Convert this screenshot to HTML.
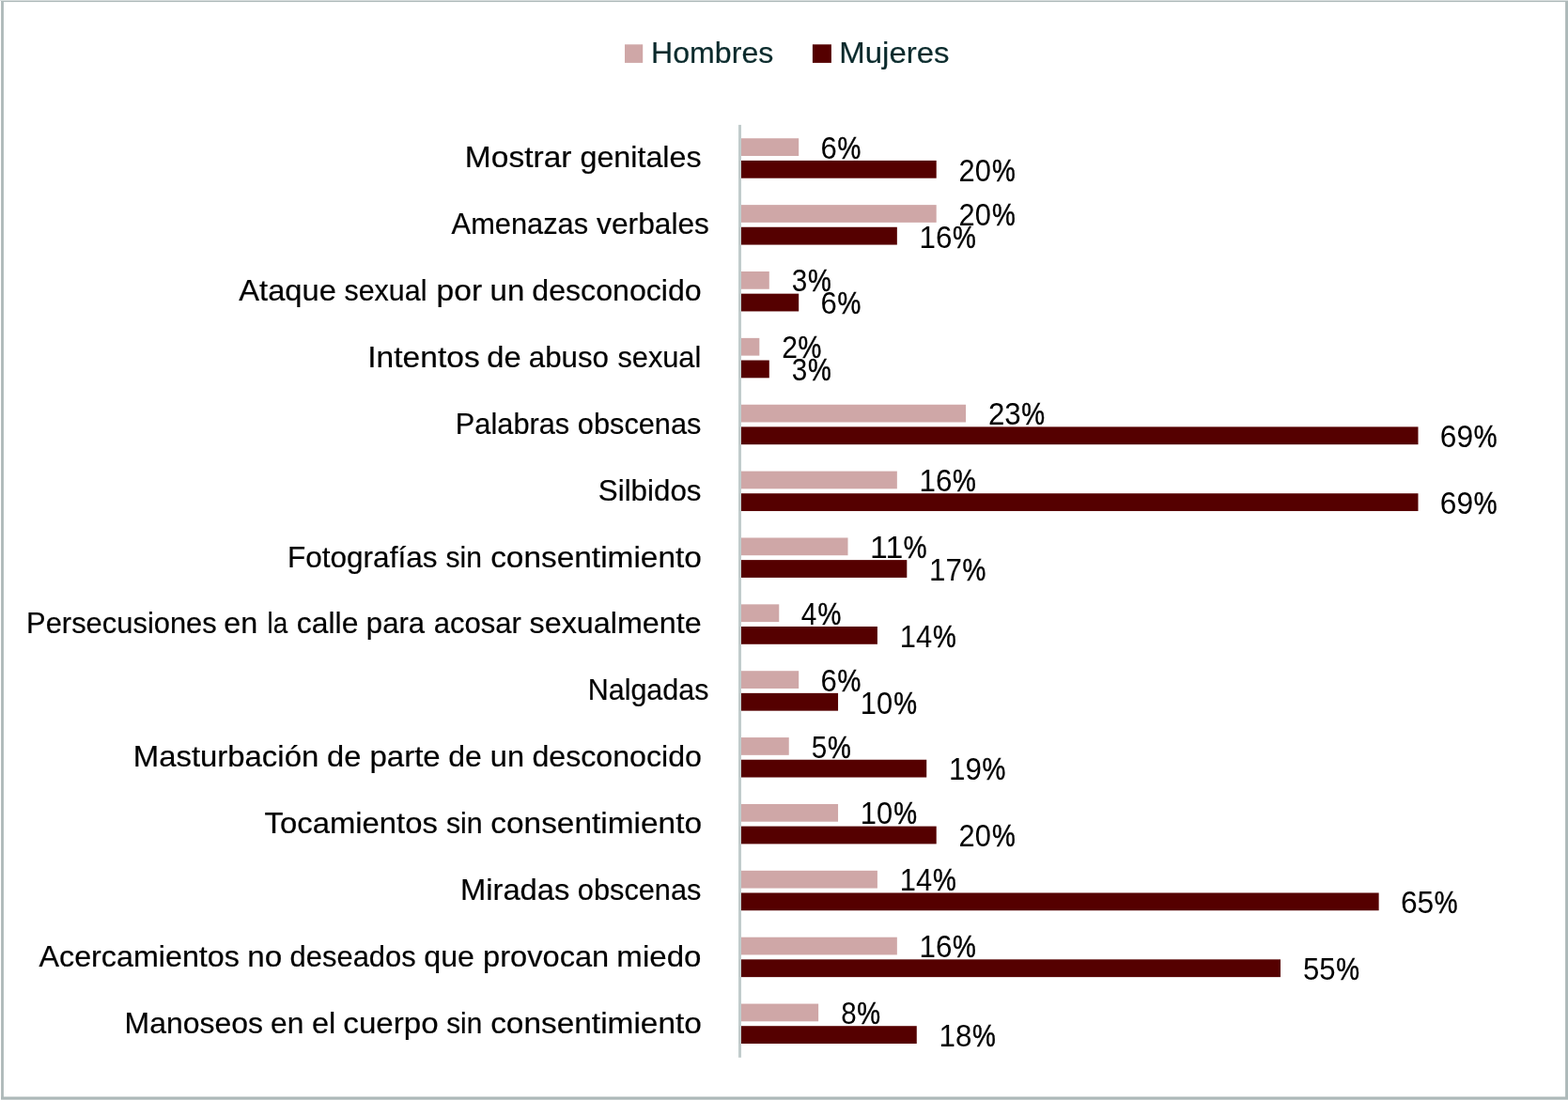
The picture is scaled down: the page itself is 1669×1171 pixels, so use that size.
<!DOCTYPE html>
<html lang="es"><head><meta charset="utf-8"><title>Gráfico</title>
<style>
html,body{margin:0;padding:0;background:#fff;}
body{width:1669px;height:1171px;overflow:hidden;}
svg{display:block;}
text{font-family:"Liberation Sans",sans-serif;}
text{stroke-width:0.2px;}
.cat{font-size:31.5px;fill:#000000;stroke:#000000;}
.val{font-size:32.5px;fill:#000000;}
.pct{stroke:#000000;stroke-width:0.45px;}
.leg{font-size:31.5px;fill:#0a2a2c;stroke:#0a2a2c;}
</style></head><body>
<svg width="1669" height="1171" viewBox="0 0 1669 1171">
<rect x="0" y="0" width="1669" height="1171" fill="#ffffff"/>
<g id="border">
<rect x="0" y="0" width="1669" height="1" fill="#d8dede"/>
<rect x="1" y="1" width="1668" height="1.1" fill="#adb9b9"/>
<rect x="1.1" y="1" width="2.8" height="1170" fill="#adb9b9"/>
<rect x="1666.1" y="1" width="2.9" height="1170" fill="#adb9b9"/>
<rect x="1" y="1167.5" width="1668" height="2.5" fill="#adb9b9"/>
<rect x="1" y="1170" width="1668" height="1" fill="#c5cdcd"/>
</g>
<g id="legend">
<rect x="665.0" y="47.3" width="19.2" height="19.6" fill="#cfa7a7"/>
<text class="leg" transform="translate(693.09,67.1) scale(1.0190,1)">Hombres</text>
<rect x="864.9" y="47.3" width="20.0" height="19.6" fill="#550000"/>
<text class="leg" transform="translate(893.33,67.1) scale(1.0470,1)">Mujeres</text>
</g>
<g id="bars">
<rect x="787.4" y="147.25" width="62.79" height="18.75" fill="#cfa7a7"/>
<rect x="787.4" y="170.90" width="209.30" height="18.8" fill="#550000"/>
<rect x="787.4" y="218.12" width="209.30" height="18.75" fill="#cfa7a7"/>
<rect x="787.4" y="241.77" width="167.44" height="18.8" fill="#550000"/>
<rect x="787.4" y="288.99" width="31.39" height="18.75" fill="#cfa7a7"/>
<rect x="787.4" y="312.64" width="62.79" height="18.8" fill="#550000"/>
<rect x="787.4" y="359.86" width="20.93" height="18.75" fill="#cfa7a7"/>
<rect x="787.4" y="383.51" width="31.39" height="18.8" fill="#550000"/>
<rect x="787.4" y="430.73" width="240.69" height="18.75" fill="#cfa7a7"/>
<rect x="787.4" y="454.38" width="722.09" height="18.8" fill="#550000"/>
<rect x="787.4" y="501.60" width="167.44" height="18.75" fill="#cfa7a7"/>
<rect x="787.4" y="525.25" width="722.09" height="18.8" fill="#550000"/>
<rect x="787.4" y="572.47" width="115.11" height="18.75" fill="#cfa7a7"/>
<rect x="787.4" y="596.12" width="177.91" height="18.8" fill="#550000"/>
<rect x="787.4" y="643.34" width="41.86" height="18.75" fill="#cfa7a7"/>
<rect x="787.4" y="666.99" width="146.51" height="18.8" fill="#550000"/>
<rect x="787.4" y="714.21" width="62.79" height="18.75" fill="#cfa7a7"/>
<rect x="787.4" y="737.86" width="104.65" height="18.8" fill="#550000"/>
<rect x="787.4" y="785.08" width="52.33" height="18.75" fill="#cfa7a7"/>
<rect x="787.4" y="808.73" width="198.84" height="18.8" fill="#550000"/>
<rect x="787.4" y="855.95" width="104.65" height="18.75" fill="#cfa7a7"/>
<rect x="787.4" y="879.60" width="209.30" height="18.8" fill="#550000"/>
<rect x="787.4" y="926.82" width="146.51" height="18.75" fill="#cfa7a7"/>
<rect x="787.4" y="950.47" width="680.23" height="18.8" fill="#550000"/>
<rect x="787.4" y="997.69" width="167.44" height="18.75" fill="#cfa7a7"/>
<rect x="787.4" y="1021.34" width="575.58" height="18.8" fill="#550000"/>
<rect x="787.4" y="1068.56" width="83.72" height="18.75" fill="#cfa7a7"/>
<rect x="787.4" y="1092.21" width="188.37" height="18.8" fill="#550000"/>
</g>
<rect x="786" y="132.9" width="3" height="992.9" fill="#c1cccc"/>
<g id="categories">
<text class="cat" y="178.35"><tspan x="494.89" textLength="113.67" lengthAdjust="spacingAndGlyphs">Mostrar</tspan> <tspan x="617.49" textLength="129.11" lengthAdjust="spacingAndGlyphs">genitales</tspan></text>
<text class="cat" y="249.22"><tspan x="480.60" textLength="145.47" lengthAdjust="spacingAndGlyphs">Amenazas</tspan> <tspan x="635.10" textLength="119.89" lengthAdjust="spacingAndGlyphs">verbales</tspan></text>
<text class="cat" y="320.09"><tspan x="254.30" textLength="103.52" lengthAdjust="spacingAndGlyphs">Ataque</tspan> <tspan x="366.42" textLength="87.99" lengthAdjust="spacingAndGlyphs">sexual</tspan> <tspan x="464.61" textLength="48.45" lengthAdjust="spacingAndGlyphs">por</tspan> <tspan x="521.64" textLength="36.71" lengthAdjust="spacingAndGlyphs">un</tspan> <tspan x="566.30" textLength="180.40" lengthAdjust="spacingAndGlyphs">desconocido</tspan></text>
<text class="cat" y="390.96"><tspan x="391.28" textLength="119.46" lengthAdjust="spacingAndGlyphs">Intentos</tspan> <tspan x="518.38" textLength="36.34" lengthAdjust="spacingAndGlyphs">de</tspan> <tspan x="562.82" textLength="85.14" lengthAdjust="spacingAndGlyphs">abuso</tspan> <tspan x="657.42" textLength="88.91" lengthAdjust="spacingAndGlyphs">sexual</tspan></text>
<text class="cat" y="461.83"><tspan x="484.79" textLength="121.47" lengthAdjust="spacingAndGlyphs">Palabras</tspan> <tspan x="614.84" textLength="131.63" lengthAdjust="spacingAndGlyphs">obscenas</tspan></text>
<text class="cat" y="532.70"><tspan x="636.82" textLength="109.66" lengthAdjust="spacingAndGlyphs">Silbidos</tspan></text>
<text class="cat" y="603.57"><tspan x="305.94" textLength="159.55" lengthAdjust="spacingAndGlyphs">Fotografías</tspan> <tspan x="474.53" textLength="38.47" lengthAdjust="spacingAndGlyphs">sin</tspan> <tspan x="522.16" textLength="224.69" lengthAdjust="spacingAndGlyphs">consentimiento</tspan></text>
<text class="cat" y="674.44"><tspan x="28.08" textLength="202.68" lengthAdjust="spacingAndGlyphs">Persecusiones</tspan> <tspan x="238.39" textLength="35.92" lengthAdjust="spacingAndGlyphs">en</tspan> <tspan x="284.45" textLength="21.69" lengthAdjust="spacingAndGlyphs">la</tspan> <tspan x="315.80" textLength="65.59" lengthAdjust="spacingAndGlyphs">calle</tspan> <tspan x="389.85" textLength="62.25" lengthAdjust="spacingAndGlyphs">para</tspan> <tspan x="461.83" textLength="93.12" lengthAdjust="spacingAndGlyphs">acosar</tspan> <tspan x="563.60" textLength="183.01" lengthAdjust="spacingAndGlyphs">sexualmente</tspan></text>
<text class="cat" y="745.31"><tspan x="625.72" textLength="128.64" lengthAdjust="spacingAndGlyphs">Nalgadas</tspan></text>
<text class="cat" y="816.18"><tspan x="141.73" textLength="197.51" lengthAdjust="spacingAndGlyphs">Masturbación</tspan> <tspan x="348.08" textLength="36.34" lengthAdjust="spacingAndGlyphs">de</tspan> <tspan x="393.44" textLength="75.29" lengthAdjust="spacingAndGlyphs">parte</tspan> <tspan x="477.30" textLength="35.59" lengthAdjust="spacingAndGlyphs">de</tspan> <tspan x="521.77" textLength="36.26" lengthAdjust="spacingAndGlyphs">un</tspan> <tspan x="566.40" textLength="180.60" lengthAdjust="spacingAndGlyphs">desconocido</tspan></text>
<text class="cat" y="887.05"><tspan x="281.54" textLength="184.38" lengthAdjust="spacingAndGlyphs">Tocamientos</tspan> <tspan x="474.92" textLength="38.79" lengthAdjust="spacingAndGlyphs">sin</tspan> <tspan x="522.26" textLength="224.79" lengthAdjust="spacingAndGlyphs">consentimiento</tspan></text>
<text class="cat" y="957.92"><tspan x="489.95" textLength="116.47" lengthAdjust="spacingAndGlyphs">Miradas</tspan> <tspan x="614.84" textLength="131.63" lengthAdjust="spacingAndGlyphs">obscenas</tspan></text>
<text class="cat" y="1028.79"><tspan x="41.50" textLength="213.40" lengthAdjust="spacingAndGlyphs">Acercamientos</tspan> <tspan x="263.33" textLength="37.02" lengthAdjust="spacingAndGlyphs">no</tspan> <tspan x="308.53" textLength="134.24" lengthAdjust="spacingAndGlyphs">deseados</tspan> <tspan x="451.30" textLength="53.71" lengthAdjust="spacingAndGlyphs">que</tspan> <tspan x="514.07" textLength="134.16" lengthAdjust="spacingAndGlyphs">provocan</tspan> <tspan x="656.34" textLength="90.10" lengthAdjust="spacingAndGlyphs">miedo</tspan></text>
<text class="cat" y="1099.66"><tspan x="132.50" textLength="147.49" lengthAdjust="spacingAndGlyphs">Manoseos</tspan> <tspan x="288.01" textLength="35.27" lengthAdjust="spacingAndGlyphs">en</tspan> <tspan x="331.99" textLength="25.36" lengthAdjust="spacingAndGlyphs">el</tspan> <tspan x="365.37" textLength="101.27" lengthAdjust="spacingAndGlyphs">cuerpo</tspan> <tspan x="475.23" textLength="38.05" lengthAdjust="spacingAndGlyphs">sin</tspan> <tspan x="522.16" textLength="224.69" lengthAdjust="spacingAndGlyphs">consentimiento</tspan></text>
</g>
<g id="values">
<text class="val" transform="translate(873.53,168.70) scale(0.9584,1)">6<tspan class="pct" dx="0.58" textLength="25.90" lengthAdjust="spacingAndGlyphs">%</tspan></text>
<text class="val" transform="translate(1020.55,192.65) scale(0.9492,1)">20<tspan class="pct" dx="1.11" textLength="26.14" lengthAdjust="spacingAndGlyphs">%</tspan></text>
<text class="val" transform="translate(1020.55,239.57) scale(0.9492,1)">20<tspan class="pct" dx="1.11" textLength="26.14" lengthAdjust="spacingAndGlyphs">%</tspan></text>
<text class="val" transform="translate(978.58,263.52) scale(0.9664,1)">16<tspan class="pct" dx="0.57" textLength="25.68" lengthAdjust="spacingAndGlyphs">%</tspan></text>
<text class="val" transform="translate(842.87,310.44) scale(0.9147,1)">3<tspan class="pct" dx="0.67" textLength="27.13" lengthAdjust="spacingAndGlyphs">%</tspan></text>
<text class="val" transform="translate(873.53,334.39) scale(0.9584,1)">6<tspan class="pct" dx="0.58" textLength="25.90" lengthAdjust="spacingAndGlyphs">%</tspan></text>
<text class="val" transform="translate(832.22,381.31) scale(0.9255,1)">2<tspan class="pct" dx="0.65" textLength="26.81" lengthAdjust="spacingAndGlyphs">%</tspan></text>
<text class="val" transform="translate(842.87,405.26) scale(0.9147,1)">3<tspan class="pct" dx="0.67" textLength="27.13" lengthAdjust="spacingAndGlyphs">%</tspan></text>
<text class="val" transform="translate(1051.93,452.18) scale(0.9637,1)">23<tspan class="pct" dx="0.57" textLength="25.75" lengthAdjust="spacingAndGlyphs">%</tspan></text>
<text class="val" transform="translate(1532.79,476.13) scale(0.9787,1)">69<tspan class="pct" dx="0.54" textLength="25.36" lengthAdjust="spacingAndGlyphs">%</tspan></text>
<text class="val" transform="translate(978.58,523.05) scale(0.9664,1)">16<tspan class="pct" dx="0.57" textLength="25.68" lengthAdjust="spacingAndGlyphs">%</tspan></text>
<text class="val" transform="translate(1532.79,547.00) scale(0.9787,1)">69<tspan class="pct" dx="0.54" textLength="25.36" lengthAdjust="spacingAndGlyphs">%</tspan></text>
<text class="val" transform="translate(926.10,593.92) scale(1.0431,1)">11<tspan class="pct" dx="0.43" textLength="23.79" lengthAdjust="spacingAndGlyphs">%</tspan></text>
<text class="val" transform="translate(989.04,617.87) scale(0.9664,1)">17<tspan class="pct" dx="0.57" textLength="25.68" lengthAdjust="spacingAndGlyphs">%</tspan></text>
<text class="val" transform="translate(852.79,664.79) scale(0.9190,1)">4<tspan class="pct" dx="1.17" textLength="27.01" lengthAdjust="spacingAndGlyphs">%</tspan></text>
<text class="val" transform="translate(957.68,688.74) scale(0.9517,1)">14<tspan class="pct" dx="1.10" textLength="26.08" lengthAdjust="spacingAndGlyphs">%</tspan></text>
<text class="val" transform="translate(873.53,735.66) scale(0.9584,1)">6<tspan class="pct" dx="0.58" textLength="25.90" lengthAdjust="spacingAndGlyphs">%</tspan></text>
<text class="val" transform="translate(915.82,759.61) scale(0.9517,1)">10<tspan class="pct" dx="1.10" textLength="26.08" lengthAdjust="spacingAndGlyphs">%</tspan></text>
<text class="val" transform="translate(863.80,806.53) scale(0.9147,1)">5<tspan class="pct" dx="0.67" textLength="27.13" lengthAdjust="spacingAndGlyphs">%</tspan></text>
<text class="val" transform="translate(1009.97,830.48) scale(0.9664,1)">19<tspan class="pct" dx="0.57" textLength="25.68" lengthAdjust="spacingAndGlyphs">%</tspan></text>
<text class="val" transform="translate(915.82,877.40) scale(0.9517,1)">10<tspan class="pct" dx="1.10" textLength="26.08" lengthAdjust="spacingAndGlyphs">%</tspan></text>
<text class="val" transform="translate(1020.55,901.35) scale(0.9492,1)">20<tspan class="pct" dx="1.11" textLength="26.14" lengthAdjust="spacingAndGlyphs">%</tspan></text>
<text class="val" transform="translate(957.68,948.27) scale(0.9517,1)">14<tspan class="pct" dx="1.10" textLength="26.08" lengthAdjust="spacingAndGlyphs">%</tspan></text>
<text class="val" transform="translate(1490.93,972.22) scale(0.9787,1)">65<tspan class="pct" dx="0.54" textLength="25.36" lengthAdjust="spacingAndGlyphs">%</tspan></text>
<text class="val" transform="translate(978.58,1019.14) scale(0.9664,1)">16<tspan class="pct" dx="0.57" textLength="25.68" lengthAdjust="spacingAndGlyphs">%</tspan></text>
<text class="val" transform="translate(1387.00,1043.09) scale(0.9581,1)">55<tspan class="pct" dx="0.58" textLength="25.90" lengthAdjust="spacingAndGlyphs">%</tspan></text>
<text class="val" transform="translate(895.30,1090.01) scale(0.9084,1)">8<tspan class="pct" dx="0.69" textLength="27.32" lengthAdjust="spacingAndGlyphs">%</tspan></text>
<text class="val" transform="translate(999.51,1113.96) scale(0.9664,1)">18<tspan class="pct" dx="0.57" textLength="25.68" lengthAdjust="spacingAndGlyphs">%</tspan></text>
</g>
</svg></body></html>
